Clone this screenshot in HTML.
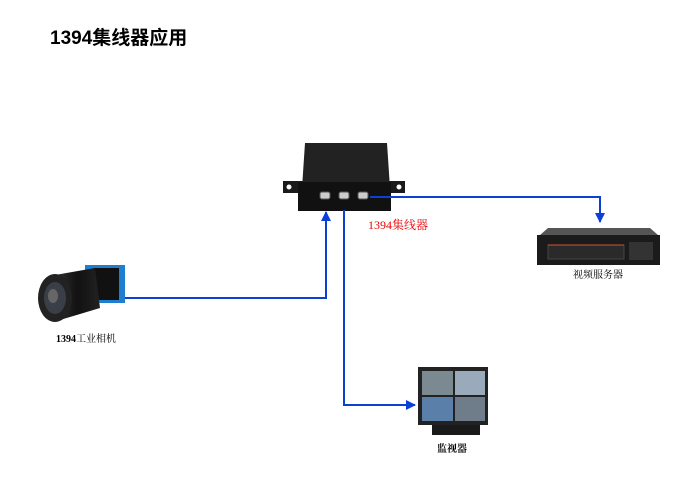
<!DOCTYPE html>
<html><head><meta charset="utf-8"><style>
body{margin:0;width:700px;height:495px;background:#fff;overflow:hidden;position:relative;font-family:"Liberation Serif","Noto Serif CJK SC",serif}
.t{position:absolute;white-space:nowrap}
</style></head><body>
<div class="t" style="left:50px;top:23px;font:bold 19px 'Liberation Sans','Noto Sans CJK SC',sans-serif;color:#000">1394集线器应用</div>
<svg width="700" height="495" style="position:absolute;left:0;top:0">
<defs><marker id="a" markerWidth="10" markerHeight="10" refX="9" refY="5" orient="auto" markerUnits="userSpaceOnUse"><path d="M0,0L10,5L0,10z" fill="#0a3fd8"/></marker>
<linearGradient id="cb" x1="0" y1="0" x2="1" y2="0"><stop offset="0" stop-color="#333"/><stop offset="0.5" stop-color="#111"/><stop offset="1" stop-color="#222"/></linearGradient></defs>
<rect x="283" y="181" width="122" height="12" fill="#1a1a1a"/>
<circle cx="289" cy="187" r="2.5" fill="#fff"/><circle cx="399" cy="187" r="2.5" fill="#fff"/>
<path d="M305,143 L387,143 L390,188 L302,188 Z" fill="#222"/>
<rect x="298" y="182" width="93" height="29" fill="#111"/>
<rect x="320" y="192" width="10" height="7" rx="2" fill="#ccc" stroke="#555"/>
<rect x="339" y="192" width="10" height="7" rx="2" fill="#ccc" stroke="#555"/>
<rect x="358" y="192" width="10" height="7" rx="2" fill="#ccc" stroke="#555"/>
<g stroke="#0a3fd8" stroke-width="2" fill="none">
<path d="M370,197 H600 V222" marker-end="url(#a)"/>
<path d="M123,298 H326 V212" marker-end="url(#a)"/>
<path d="M344,210 V405 H415" marker-end="url(#a)"/>
</g>
<path d="M540,235 L548,228 L650,228 L658,235 Z" fill="#555"/>
<rect x="537" y="235" width="123" height="30" fill="#1b1b1b"/>
<rect x="548" y="245" width="76" height="14" fill="#2a2a2a" stroke="#444"/>
<line x1="548" y1="245" x2="624" y2="245" stroke="#c53" stroke-width="1"/>
<rect x="629" y="242" width="24" height="18" fill="#333"/>
<rect x="85" y="265" width="40" height="38" fill="#1e7fd0"/>
<rect x="93" y="268" width="26" height="32" fill="#111"/>
<path d="M55,275 L95,268 L100,308 L60,320 Z" fill="url(#cb)"/>
<ellipse cx="55" cy="298" rx="17" ry="24" fill="#222"/>
<ellipse cx="55" cy="298" rx="11" ry="16" fill="#3a3f47"/>
<ellipse cx="53" cy="296" rx="5" ry="7" fill="#666"/>
<rect x="432" y="425" width="48" height="10" fill="#1a1a1a"/>
<rect x="418" y="367" width="70" height="58" fill="#222"/>
<rect x="422" y="371" width="31" height="24" fill="#7a8a90"/>
<rect x="455" y="371" width="30" height="24" fill="#9ab"/>
<rect x="422" y="397" width="31" height="24" fill="#5a7fa8"/>
<rect x="455" y="397" width="30" height="24" fill="#6f7d8a"/>
</svg>
<div class="t" style="left:368px;top:216px;font-size:12px;color:#e00">1394集线器</div>
<div class="t" style="left:573px;top:266px;font-size:10px">视频服务器</div>
<div class="t" style="left:56px;top:330px;font-size:10px;font-weight:bold">1394<span style="font-weight:normal">工业相机</span></div>
<div class="t" style="left:437px;top:440px;font-size:10px;font-weight:bold">监视器</div>
</body></html>
